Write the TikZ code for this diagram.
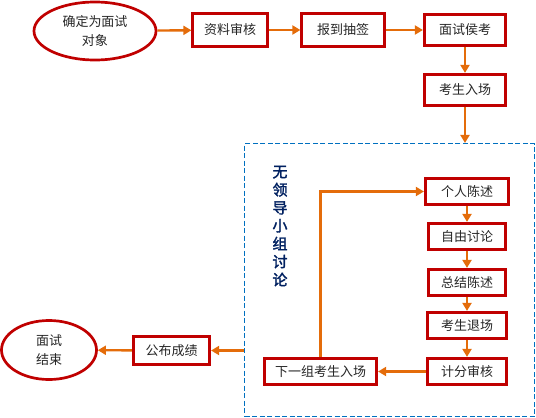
\documentclass[tikz,border=0pt]{standalone}
\usepackage{fontspec}
\newfontfamily\cjk{Noto Sans CJK SC}
\newfontfamily\cjkbold[FakeBold=2]{Noto Sans CJK SC}
\usetikzlibrary{shapes.geometric, arrows.meta, positioning, calc}
\definecolor{boxred}{HTML}{C00000}
\definecolor{flow}{HTML}{E46C0A}
\definecolor{groupblue}{HTML}{0070C0}
\definecolor{navy}{HTML}{002060}

\begin{document}
\begin{tikzpicture}[
        x=1pt, y=-1pt,
        stage/.style={rectangle, draw=boxred, line width=2.7pt, fill=white, inner sep=0pt, minimum height=26.5pt, font=\cjk\fontsize{13}{18}\selectfont, text=black!85},
        oval/.style={ellipse, draw=boxred, line width=2.7pt, fill=white, inner sep=0pt, align=center, font=\cjk\fontsize{13}{19}\selectfont, text=black!85},
        groupbox/.style={rectangle, draw=groupblue, line width=1.1pt, dash pattern=on 5pt off 2.5pt, inner sep=0pt},
        title/.style={align=center, text=navy, font=\cjkbold\fontsize{15}{18}\selectfont},
        arrow/.style={-{Triangle[length=8pt,width=9pt]}, line width=2.4pt, draw=flow}
    ]
        \useasboundingbox (0,0) rectangle (536,418);
        \node[groupbox, minimum width=290pt, minimum height=273pt] (group) at (389.5,280) {};
        \node[oval, minimum width=122pt, minimum height=58pt] (start) at (95,31) {确定为面试\\对象};
        \node[stage, minimum width=74.5pt, minimum height=32.5pt] (check) at (230,30) {资料审核};
        \node[stage, minimum width=82.5pt, minimum height=32.5pt] (sign) at (343,30) {报到抽签};
        \node[stage, minimum width=81.5pt, minimum height=31.5pt] (wait) at (465,30) {面试侯考};
        \node[stage, minimum width=81.5pt, minimum height=31.5pt] (enter) at (465,90) {考生入场};
        \node[title] (topic) at (280,226) {无\\领\\导\\小\\组\\讨\\论};
        \node[stage, minimum width=83.5pt] (speech) at (467,191.5) {个人陈述};
        \node[stage, minimum width=76.5pt] (debate) at (467,236.5) {自由讨论};
        \node[stage, minimum width=77.5pt] (summary) at (467,282.5) {总结陈述};
        \node[stage, minimum width=78.5pt] (leave) at (467,325.5) {考生退场};
        \node[stage, minimum width=78.5pt] (score) at (467,371.5) {计分审核};
        \node[stage, minimum width=112.5pt] (next) at (320.5,371.5) {下一组考生入场};
        \node[stage, minimum width=76.5pt, minimum height=28.5pt] (publish) at (171.5,350.5) {公布成绩};
        \node[oval, minimum width=95pt, minimum height=59pt] (finish) at (49,350) {面试\\结束};
        \draw[arrow] (start) -- (check);
        \draw[arrow] (check) -- (sign);
        \draw[arrow] (sign) -- (wait);
        \draw[arrow] (wait) -- (enter);
        \draw[arrow] (enter) -- (enter |- group.north);
        \draw[arrow] (speech) -- (debate);
        \draw[arrow] (debate) -- (summary);
        \draw[arrow] (summary) -- (leave);
        \draw[arrow] (leave) -- (score);
        \draw[arrow] (score) -- (next);
        \draw[arrow] (next) |- (speech);
        \draw[arrow] (group.west |- publish) -- (publish);
        \draw[arrow] (publish) -- (finish);
    \end{tikzpicture}
\end{document}
